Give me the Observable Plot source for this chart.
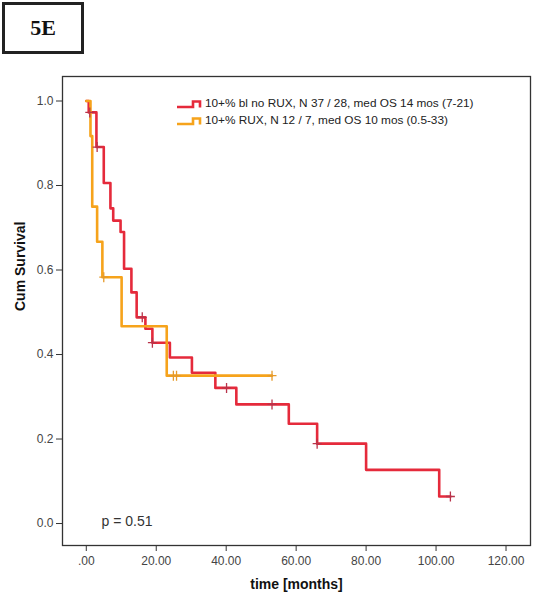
<!DOCTYPE html>
<html>
<head>
<meta charset="utf-8">
<script src="https://cdn.jsdelivr.net/npm/d3@7"></script>
<script src="https://cdn.jsdelivr.net/npm/@observablehq/plot@0.6"></script>
<style>
  html, body { margin: 0; padding: 0; background: #fff; }
  body { width: 533px; height: 600px; position: relative; overflow: hidden; font-family: Arial, "Liberation Sans", sans-serif; }
  #tag { position: absolute; left: 2px; top: 2px; width: 76px; height: 46px; border: 3px solid #222;
         font-family: "Liberation Serif", "Times New Roman", serif; font-weight: bold; font-size: 22px;
         display: flex; align-items: center; justify-content: center; color: #111; }
  #chart { position: absolute; left: 0; top: 60px; }
  #legend { position: absolute; left: 176px; top: 95px; font-size: 11.8px; color: #222; line-height: 17px; }
  #legend div { display: flex; align-items: center; white-space: nowrap; }
  #legend svg { margin-right: 3px; }
</style>
</head>
<body>
<div id="tag">5E</div>
<div id="chart"></div>
<div id="legend"></div>
<script>
// ---- data ----
const seriesNames = ["10+% bl no RUX, N 37 / 28, med OS 14 mos (7-21)", "10+% RUX, N 12 / 7, med OS 10 mos (0.5-33)"];
const seriesColors = ["#e52a3b", "#f6a31b"];

const redTime = [0, 0.7, 2.9, 5.0, 6.9, 7.7, 9.8, 10.8, 12.9, 14.4, 16.9, 18.9, 23.9, 30.2, 36.9, 42.9, 57.9, 66.0, 80.0, 100.9, 104.1];
const redSurv = [1, 0.973, 0.891, 0.806, 0.746, 0.717, 0.690, 0.603, 0.547, 0.488, 0.461, 0.428, 0.393, 0.357, 0.321, 0.282, 0.236, 0.189, 0.127, 0.064, 0.064];
const redCensorTime = [1.0, 3.1, 16.0, 18.9, 40.1, 53.1, 66.0, 104.1];
const redCensorSurv = [0.973, 0.891, 0.488, 0.428, 0.321, 0.282, 0.189, 0.064];

const orangeTime = [0, 1.2, 1.7, 3.1, 4.6, 10.1, 23.0, 53.1];
const orangeSurv = [1, 0.917, 0.75, 0.667, 0.583, 0.467, 0.35, 0.35];
const orangeCensorTime = [5.0, 24.9, 25.8, 53.1];
const orangeCensorSurv = [0.583, 0.35, 0.35, 0.35];

const xTicks = [0, 20, 40, 60, 80, 100, 120];
const yTicks = [0, 0.2, 0.4, 0.6, 0.8, 1.0];
const pText = "p = 0.51";
const xLabel = "time [months]";
const yLabel = "Cum Survival";

// ---- build tables ----
const redLine = redTime.map((t, i) => ({t, s: redSurv[i]}));
const orangeLine = orangeTime.map((t, i) => ({t, s: orangeSurv[i]}));
const redCens = redCensorTime.map((t, i) => ({t, s: redCensorSurv[i]}));
const orangeCens = orangeCensorTime.map((t, i) => ({t, s: orangeCensorSurv[i]}));

const plusSymbol = {
  draw(ctx, size) {
    const r = Math.sqrt(size / Math.PI);
    ctx.moveTo(0, -r); ctx.lineTo(0, r);
    ctx.moveTo(-r * 0.9, 0); ctx.lineTo(r * 0.9, 0);
  }
};

const fmtX = v => v === 0 ? ".00" : d3.format(".2f")(v);

const chart = Plot.plot({
  width: 533,
  height: 540,
  marginLeft: 62,
  marginRight: 3,
  marginTop: 16,
  marginBottom: 55,
  style: {fontFamily: "Arial, 'Liberation Sans', sans-serif", fontSize: "12px", color: "#333", background: "white"},
  x: {domain: [-6.8, 127], label: null},
  y: {domain: [-0.052, 1.058], label: null},
  marks: [
    Plot.axisX(xTicks, {tickFormat: fmtX, tickSize: 6, tickPadding: 5, label: null, stroke: "#333", fill: "#444", fontSize: 12}),
    Plot.axisY(yTicks, {tickFormat: d3.format(".1f"), tickSize: 6, tickPadding: 3, label: null, stroke: "#333", fill: "#444", fontSize: 12}),
    Plot.line(redLine, {x: "t", y: "s", curve: "step-after", stroke: seriesColors[0], strokeWidth: 2.6}),
    Plot.line(orangeLine, {x: "t", y: "s", curve: "step-after", stroke: seriesColors[1], strokeWidth: 2.6}),
    Plot.dot(orangeCens, {x: "t", y: "s", symbol: plusSymbol, r: 5, fill: "none", stroke: "#e59a2a", strokeWidth: 1.3}),
    Plot.dot(redCens, {x: "t", y: "s", symbol: plusSymbol, r: 5, fill: "none", stroke: "#b8334a", strokeWidth: 1.3}),
    Plot.text([pText], {frameAnchor: "bottom-left", dx: 39, dy: -20, textAnchor: "start", fontSize: 14, fill: "#333"}),
    Plot.text([xLabel], {frameAnchor: "bottom", dy: 43, fontSize: 14, fontWeight: "bold", fill: "#111"}),
    Plot.text([yLabel], {frameAnchor: "left", dx: -42, rotate: -90, fontSize: 14, fontWeight: "bold", fill: "#111"}),
    Plot.frame({stroke: "#333", strokeWidth: 1.3})
  ]
});
document.getElementById("chart").appendChild(chart);

// ---- legend ----
const legend = document.getElementById("legend");
seriesNames.forEach((name, i) => {
  const row = document.createElement("div");
  row.innerHTML = `<svg width="26" height="10"><path d="M1,8H17V2.5H24V8.5" fill="none" stroke="${seriesColors[i]}" stroke-width="2.6"/></svg><span>${name}</span>`;
  legend.appendChild(row);
});
</script>
</body>
</html>
